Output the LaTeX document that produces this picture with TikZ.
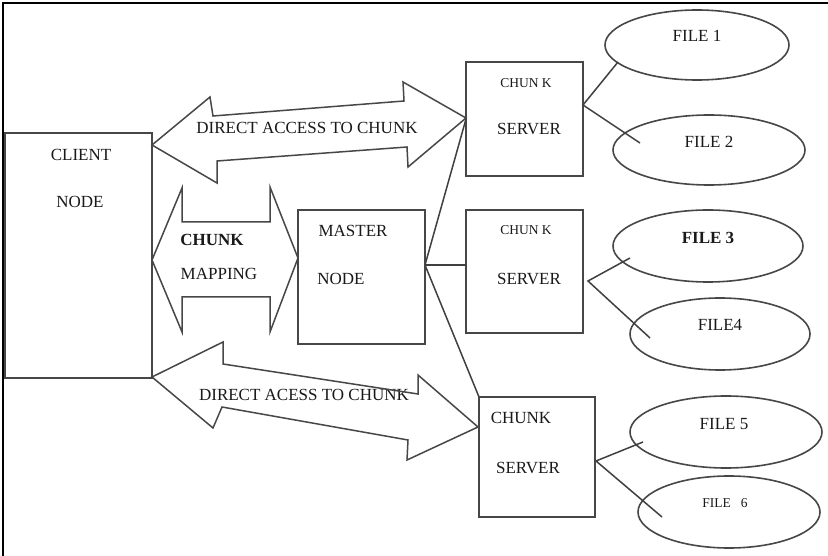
\documentclass[tikz,border=0pt]{standalone}
\usepackage{fontspec}
\setmainfont{Liberation Serif}
\usetikzlibrary{shapes.geometric}
\begin{document}
\begin{tikzpicture}[x=1pt,y=-1pt,
  line width=1.6pt, draw=black!72,
  every node/.style={inner sep=0pt},
  txt/.style={font=\fontsize{17}{19}\selectfont, text=black!90},
  small/.style={font=\fontsize{13.5}{15}\selectfont, text=black!90},
  box/.style={draw=black!72, line width=1.6pt},
  file/.style={draw=black!72, line width=1.6pt, ellipse},
  link/.style={draw=black!75, line width=1.5pt},
  fat/.style={draw=black!72, line width=1.5pt, line join=miter}]
\useasboundingbox (0,0) rectangle (828,556);
\fill[white] (0,0) rectangle (828,556);
% frame edges
\draw[black, line width=2pt] (3,556) -- (3,3) -- (828,3);

% boxes
\draw[box] (5,133) rectangle (152,378);
\node[txt] (clientA) at (81,155) {CLIENT};
\node[txt] (clientB) at (80,202) {NODE};

\draw[box] (298,210) rectangle (425,344);
\node[txt] at (353,231) {MASTER};
\node[txt] at (341,279) {NODE};
\coordinate (mR) at (425,265);

\draw[box] (466,62) rectangle (583,176);
\node[small] at (526,83) {CHUN K};
\node[txt] at (529,129) {SERVER};
\coordinate (s1W) at (466,119);
\coordinate (s1E) at (583,105);

\draw[box] (466,210) rectangle (583,333);
\node[small] at (526,230) {CHUN K};
\node[txt] at (529,279) {SERVER};
\coordinate (s2W) at (466,265);
\coordinate (s2E) at (588,281);

\draw[box] (479,397) rectangle (595,517);
\node[txt] at (521,418) {CHUNK};
\node[txt] at (528,468) {SERVER};
\coordinate (s3NW) at (479,397);
\coordinate (s3E) at (596,461);

% files
\node[file, minimum width=184pt, minimum height=70pt] (f1) at (697,45) {};
\node[txt] at (697,36) {FILE 1};
\node[file, minimum width=192pt, minimum height=70pt] (f2) at (709,150) {};
\node[txt] at (709,142) {FILE 2};
\node[file, minimum width=190pt, minimum height=72pt] (f3) at (708,246) {};
\node[txt, font=\fontsize{17}{19}\selectfont\bfseries] at (708,238) {FILE 3};
\node[file, minimum width=180pt, minimum height=72pt] (f4) at (720,334) {};
\node[txt] at (720,325) {FILE4};
\node[file, minimum width=192pt, minimum height=72pt] (f5) at (726,432) {};
\node[txt] at (724,424) {FILE 5};
\node[file, minimum width=182pt, minimum height=72pt] (f6) at (729,512) {};
\node[small] at (725,503) {FILE\ \ \ 6};

% server to file links (ends reach into the ellipses)
\coordinate (e1) at (618,62);
\coordinate (e2) at (640,143);
\coordinate (e3) at (630,258);
\coordinate (e4) at (650,338);
\coordinate (e5) at (643,442);
\coordinate (e6) at (662,517);
\draw[link] (e1) -- (s1E) -- (e2);
\draw[link] (e3) -- (s2E) -- (e4);
\draw[link] (e5) -- (s3E) -- (e6);

% master to servers
\draw[link] (mR) -- (s1W);
\draw[link] (mR) -- (s2W);
\draw[link] (mR) -- (s3NW);

% top double arrow
\draw[fat, fill=white] (152,145) -- (210,97) -- (213,116) -- (404,101) -- (403,82)
  -- (466,118) -- (408,167) -- (407,147) -- (217,161) -- (217,183) -- cycle;
\node[txt] at (307,128) {DIRECT ACCESS TO CHUNK};

% chunk mapping double arrow
\draw[fat, fill=white] (152,260) -- (182,188) -- (182,222) -- (270,222) -- (270,187)
  -- (298,258) -- (270,332) -- (270,297) -- (182,297) -- (182,332) -- cycle;
\node[txt, font=\fontsize{17}{19}\selectfont\bfseries] at (212,240) {CHUNK};
\node[txt] at (219,274) {MAPPING};

% bottom double arrow, its upper edge running through the label
\node[txt] at (304,395) {DIRECT ACESS TO CHUNK};
\draw[fat] (152,377) -- (223,342) -- (223,364) -- (418,394) -- (418,375)
  -- (478,427) -- (407,460) -- (408,440) -- (222,407) -- (213,428) -- cycle;
\end{tikzpicture}
\end{document}
